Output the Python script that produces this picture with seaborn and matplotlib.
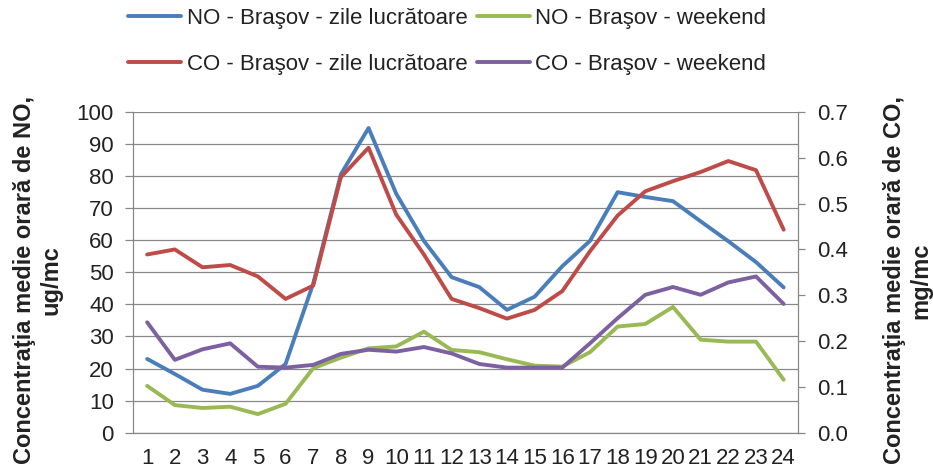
import matplotlib
matplotlib.use("Agg")
import matplotlib.pyplot as plt
from matplotlib.ticker import FixedLocator, FormatStrFormatter
import seaborn as sns

hours = list(range(1, 25))
no_work = [23, 18.3, 13.4, 12.1, 14.6, 21.4, 46.5, 80.6, 95, 74.5, 59.8, 48.5,
           45.4, 38.3, 42.4, 51.9, 59.8, 75, 73.5, 72.2, 65.9, 59.7, 53.2, 45.3]
no_weekend = [14.6, 8.6, 7.7, 8.1, 5.8, 9.0, 20.1, 23.4, 26.3, 26.9, 31.5, 25.8,
              25.1, 22.9, 20.9, 20.6, 25.1, 33.1, 33.9, 39.2, 29.0, 28.4, 28.4, 16.5]
co_work = [0.389, 0.400, 0.361, 0.366, 0.341, 0.292, 0.321, 0.558, 0.622, 0.476, 0.389, 0.292,
           0.272, 0.249, 0.268, 0.309, 0.396, 0.474, 0.527, 0.549, 0.569, 0.593, 0.573, 0.443]
co_weekend = [0.241, 0.159, 0.182, 0.195, 0.144, 0.142, 0.148, 0.172, 0.181, 0.177, 0.187, 0.173,
              0.150, 0.142, 0.142, 0.142, 0.195, 0.250, 0.301, 0.318, 0.301, 0.328, 0.341, 0.281]

labels = ["NO - Braşov - zile lucrătoare", "NO - Braşov - weekend",
          "CO - Braşov - zile lucrătoare", "CO - Braşov - weekend"]
colors = ["#4A7EBB", "#98B954", "#BE4B48", "#7D60A0"]

sns.set_style("white")
plt.rcParams['font.family'] = ['Liberation Sans', 'DejaVu Sans']
fs = 16

grid_col = "#888888"
txt_col = "#222222"
lw = 2.8

fig = plt.figure(figsize=(9.33, 4.72), dpi=100)
ax = fig.add_axes([0.1429, 0.0833, 0.7119, 0.6794])
ax2 = ax.twinx()

sns.lineplot(x=hours, y=no_work, ax=ax, color=colors[0], lw=lw, label=labels[0])
sns.lineplot(x=hours, y=no_weekend, ax=ax, color=colors[1], lw=lw, label=labels[1])
sns.lineplot(x=hours, y=co_work, ax=ax2, color=colors[2], lw=lw, label=labels[2])
sns.lineplot(x=hours, y=co_weekend, ax=ax2, color=colors[3], lw=lw, label=labels[3])

ax.set_xlim(0.5, 24.5)
ax.set_ylim(0, 100)
ax2.set_ylim(0, 0.7)
ax.set_yticks(range(0, 101, 10))
ax2.set_yticks([i / 10 for i in range(8)])
ax2.yaxis.set_major_formatter(FormatStrFormatter('%.1f'))
ax.set_xticks(hours)
ax.xaxis.set_minor_locator(FixedLocator([h + 0.5 for h in range(0, 25)]))

ax.grid(axis='y', color=grid_col, lw=0.9)
ax.set_axisbelow(True)
for a in (ax, ax2):
    for s in a.spines.values():
        s.set_color(grid_col)
        s.set_linewidth(0.9)
    a.spines['top'].set_visible(False)
ax.spines['right'].set_visible(False)
ax2.spines['left'].set_visible(False)
ax2.spines['bottom'].set_visible(False)

ax.tick_params(axis='x', which='major', length=0, pad=11, labelsize=fs, colors=txt_col)
ax.tick_params(axis='x', which='minor', length=6, width=0.9, color=grid_col, direction='out')
ax.tick_params(axis='y', length=6, width=0.9, color=grid_col, direction='out', pad=8,
               labelsize=fs, labelcolor=txt_col)
ax2.tick_params(axis='y', length=5, width=0.9, color=grid_col, direction='out', pad=9,
                labelsize=fs, labelcolor=txt_col)

ax.set_ylabel("Concentraţia medie orară de NO,\nug/mc", fontweight='bold', fontsize=17,
              multialignment='center', color=txt_col)
ax.yaxis.set_label_coords(-0.107, 0.475)
ax2.set_ylabel("Concentraţia medie orară de CO,\nmg/mc", fontweight='bold', fontsize=17,
               multialignment='center', color=txt_col)
ax2.yaxis.set_label_coords(1.128, 0.475)

h1, l1 = ax.get_legend_handles_labels()
h2, l2 = ax2.get_legend_handles_labels()
ax.get_legend().remove()
ax2.get_legend().remove()
handles = [h1[0], h2[0], h1[1], h2[1]]
names = [l1[0], l2[0], l1[1], l2[1]]
fig.legend(handles, names, ncol=2, loc='upper left', bbox_to_anchor=(128 / 933, 1 - 8 / 472),
           frameon=False, borderpad=0, borderaxespad=0, handlelength=2.4, handletextpad=0.25,
           columnspacing=0.4, labelspacing=1.12, fontsize=fs, labelcolor=txt_col)

fig.savefig("out.png", dpi=100)
